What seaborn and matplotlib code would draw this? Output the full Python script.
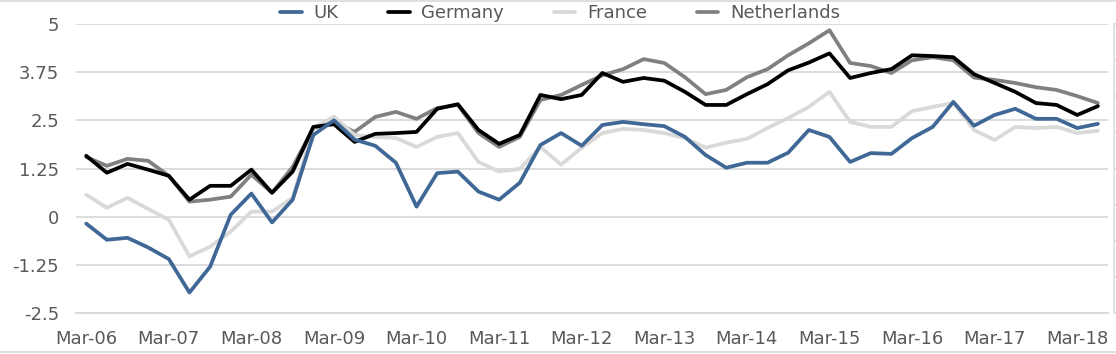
import numpy as np
import pandas as pd
import seaborn as sns
import matplotlib.pyplot as plt
from matplotlib.lines import Line2D

# quarterly values, Mar-06 .. Jun-18
uk = [-0.18, -0.6, -0.55, -0.8, -1.1, -1.97, -1.3, 0.05, 0.6, -0.15,
      0.44, 2.12, 2.5, 2.0, 1.84, 1.4, 0.26, 1.13, 1.17, 0.65,
      0.44, 0.88, 1.86, 2.17, 1.84, 2.38, 2.46, 2.4, 2.35, 2.07,
      1.6, 1.27, 1.4, 1.4, 1.66, 2.25, 2.07, 1.42, 1.65, 1.63,
      2.04, 2.33, 2.98, 2.36, 2.64, 2.8, 2.54, 2.54, 2.3, 2.41]
germany = [1.58, 1.14, 1.37, 1.22, 1.06, 0.44, 0.8, 0.8, 1.22, 0.62,
           1.17, 2.33, 2.4, 1.94, 2.15, 2.17, 2.2, 2.8, 2.92, 2.25,
           1.89, 2.12, 3.16, 3.05, 3.16, 3.73, 3.5, 3.6, 3.53, 3.24,
           2.9, 2.9, 3.18, 3.44, 3.8, 4.0, 4.24, 3.6, 3.73, 3.83,
           4.19, 4.17, 4.14, 3.7, 3.47, 3.24, 2.95, 2.9, 2.64, 2.87]
france = [0.57, 0.23, 0.49, 0.2, -0.08, -1.03, -0.78, -0.39, 0.13, 0.13,
          0.49, 2.3, 2.6, 2.12, 2.07, 2.04, 1.81, 2.07, 2.17, 1.42,
          1.17, 1.24, 1.81, 1.35, 1.79, 2.17, 2.28, 2.25, 2.17, 2.04,
          1.79, 1.92, 2.02, 2.3, 2.56, 2.85, 3.24, 2.46, 2.33, 2.33,
          2.74, 2.85, 2.95, 2.25, 1.99, 2.33, 2.3, 2.33, 2.17, 2.23]
netherlands = [1.55, 1.32, 1.5, 1.45, 1.06, 0.39, 0.44, 0.52, 1.09, 0.62,
               1.29, 2.3, 2.46, 2.2, 2.59, 2.72, 2.54, 2.82, 2.9, 2.17,
               1.81, 2.07, 3.03, 3.16, 3.42, 3.67, 3.83, 4.09, 3.99, 3.62,
               3.18, 3.29, 3.62, 3.83, 4.19, 4.5, 4.84, 3.99, 3.91, 3.73,
               4.06, 4.14, 4.06, 3.61, 3.55, 3.47, 3.36, 3.29, 3.13, 2.95]

countries = ['UK', 'Germany', 'France', 'Netherlands']
colors = {'UK': '#3f6896', 'Germany': '#000000', 'France': '#d9d9d9', 'Netherlands': '#808080'}
xlabels = ['Mar-06', 'Mar-07', 'Mar-08', 'Mar-09', 'Mar-10', 'Mar-11', 'Mar-12',
           'Mar-13', 'Mar-14', 'Mar-15', 'Mar-16', 'Mar-17', 'Mar-18']
yticks = [5, 3.75, 2.5, 1.25, 0, -1.25, -2.5]

n = len(uk)
df = pd.DataFrame({'q': np.arange(n), 'UK': uk, 'Germany': germany,
                   'France': france, 'Netherlands': netherlands})
long_df = df.melt(id_vars='q', var_name='country', value_name='val')

sns.set_style('white')
plt.rcParams['font.family'] = ['DejaVu Sans']

fig = plt.figure(figsize=(11.16, 3.54), dpi=100)
ax = fig.add_axes([0.068, 0.116, 0.925, 0.816])

sns.lineplot(data=long_df, x='q', y='val', hue='country', hue_order=countries,
             palette=colors, linewidth=2.7, sort=False, ax=ax)

# draw order: Netherlands under France under Germany under UK
zo = {'Netherlands': 2, 'France': 3, 'Germany': 4, 'UK': 5}
for line, c in zip(ax.lines, countries):
    line.set_zorder(zo[c])

ax.set_xlim(-0.5, n - 0.5)
ax.set_ylim(-2.5, 5)
ax.set_yticks(yticks)
ax.set_yticklabels(['5', '3.75', '2.5', '1.25', '0', '-1.25', '-2.5'])
ax.set_xticks(np.arange(0, n, 4)[:len(xlabels)])
ax.set_xticklabels(xlabels)
ax.set_xticks(np.arange(-0.5, n, 1), minor=True)
ax.tick_params(axis='y', length=0, pad=12, labelsize=13, labelcolor='#595959')
ax.tick_params(axis='x', which='major', length=0, pad=12, labelsize=13, labelcolor='#595959')
ax.tick_params(axis='x', which='minor', length=5, width=1.1, color='#d9d9d9', direction='out')
ax.grid(axis='y', color='#d9d9d9', linewidth=1.3, zorder=0)
ax.set_axisbelow(True)
ax.set_xlabel('')
ax.set_ylabel('')
for s in ['top', 'left', 'right']:
    ax.spines[s].set_visible(False)
ax.spines['bottom'].set_color('#d9d9d9')
ax.spines['bottom'].set_linewidth(1.3)

# faint secondary axis at the right edge (labels cut off in the original)
ax2 = ax.twinx()
ax2.set_ylim(0, 8)
ax2.set_yticks(range(9))
ax2.set_yticklabels([])
ax2.tick_params(axis='y', length=4, color='#d9d9d9', width=1.1)
for s in ['top', 'left', 'bottom']:
    ax2.spines[s].set_visible(False)
ax2.spines['right'].set_position(('outward', 4))
ax2.spines['right'].set_color('#d9d9d9')
ax2.spines['right'].set_linewidth(1.1)

handles, labels = ax.get_legend_handles_labels()
ax.legend(handles, labels, loc='center', bbox_to_anchor=(0.469, 1.038), ncol=4,
          frameon=False, fontsize=13, handlelength=1.2, columnspacing=2.75,
          handletextpad=0.65, labelcolor='#595959', borderpad=0)

# chart border lines (top and bottom)
fig.add_artist(Line2D([0, 1], [0.997, 0.997], color='#d9d9d9', linewidth=1.2))
fig.add_artist(Line2D([0, 1], [0.006, 0.006], color='#d9d9d9', linewidth=1.2))

plt.savefig('out.png', dpi=100)
